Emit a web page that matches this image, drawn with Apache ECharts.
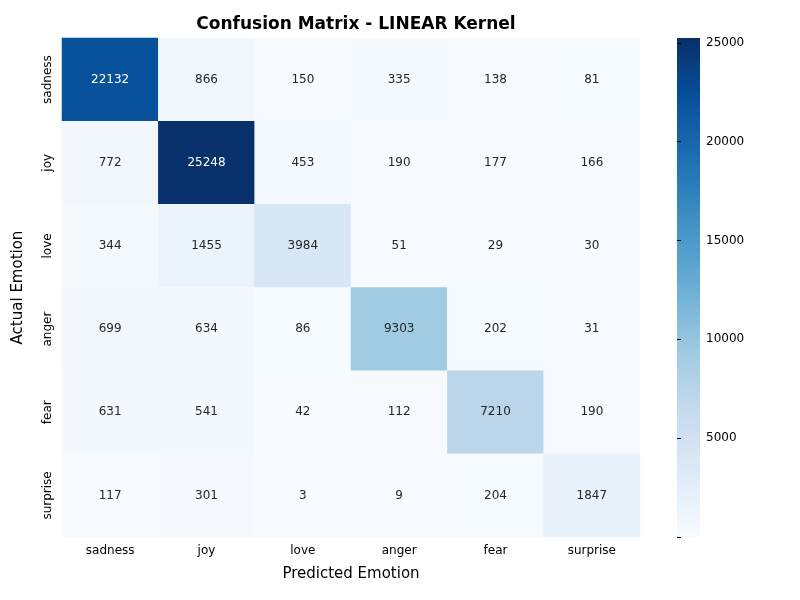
<!DOCTYPE html>
<html>
<head>
<meta charset="utf-8">
<script src="https://cdn.jsdelivr.net/npm/echarts@6/dist/echarts.min.js"></script>
<style>html,body{margin:0;background:#fff}#c{width:800px;height:600px}</style>
</head>
<body>
<div id="c"></div>
<script>
// confusion matrix, rows = actual, cols = predicted
const labels = ['sadness', 'joy', 'love', 'anger', 'fear', 'surprise'];
const matrix = [
    [22132, 866, 150, 335, 138, 81],
    [772, 25248, 453, 190, 177, 166],
    [344, 1455, 3984, 51, 29, 30],
    [699, 634, 86, 9303, 202, 31],
    [631, 541, 42, 112, 7210, 190],
    [117, 301, 3, 9, 204, 1847]
];
const colorbarTicks = [5000, 10000, 15000, 20000, 25000];
const blues = ['#f7fbff', '#deebf7', '#c6dbef', '#9ecae1', '#6baed6', '#4292c6', '#2171b5', '#08519c', '#08306b'];

let vmin = Math.min(...matrix.flat());
let vmax = Math.max(...matrix.flat());

let data = [];
matrix.forEach((row, i) => {
    row.forEach((v, j) => {
        data.push({
            value: [j, i, v],
            label: { color: (v - vmin) / (vmax - vmin) > 0.5 ? '#fff' : '#262626' }
        });
    });
});

let chart = echarts.init(document.getElementById('c'));
let font = 'DejaVu Sans';
chart.setOption({
    textStyle: { fontFamily: font },
    title: {
        text: 'Confusion Matrix - LINEAR Kernel',
        left: 351, top: 11, textAlign: 'center',
        textStyle: { fontSize: 17, fontWeight: 'bold', color: '#000', fontFamily: font }
    },
    grid: [
        { left: 62, right: 160, top: 38, bottom: 63 },
        { left: 677, width: 23, top: 38, height: 499 }
    ],
    xAxis: [{
        type: 'category', data: labels, gridIndex: 0,
        name: 'Predicted Emotion', nameLocation: 'middle', nameGap: 30,
        nameTextStyle: { fontSize: 15, color: '#000' },
        axisLine: { show: false }, axisTick: { length: 4, lineStyle: { color: '#000' }, alignWithLabel: true },
        axisLabel: { fontSize: 12, color: '#000' }, splitLine: { show: false }
    }, {
        type: 'value', gridIndex: 1, show: false
    }],
    yAxis: [{
        type: 'category', data: labels, gridIndex: 0, inverse: true,
        name: 'Actual Emotion', nameLocation: 'middle', nameGap: 36, nameRotate: 90,
        nameTextStyle: { fontSize: 15, color: '#000' },
        axisLine: { show: false }, axisTick: { length: 4, lineStyle: { color: '#000' }, alignWithLabel: true },
        axisLabel: { fontSize: 12, color: '#000', rotate: 90, margin: 8 }
    }, {
        type: 'value', gridIndex: 1, position: 'right', min: 0, max: vmax, interval: 5000,
        axisLine: { show: false }, splitLine: { show: false },
        axisTick: { show: true, length: 4, lineStyle: { color: '#000' } },
        axisLabel: {
            fontSize: 12, color: '#000', showMaxLabel: false, margin: 6,
            formatter: v => colorbarTicks.includes(v) ? v : ''
        }
    }],
    visualMap: {
        show: false, min: vmin, max: vmax, seriesIndex: 0,
        inRange: { color: blues }
    },
    graphic: [{
        type: 'rect', shape: { x: 677, y: 38, width: 23, height: 499 },
        style: {
            fill: new echarts.graphic.LinearGradient(0, 1, 0, 0,
                blues.map((c, k) => ({ offset: k / (blues.length - 1), color: c })))
        }
    }],
    series: [{
        type: 'heatmap', xAxisIndex: 0, yAxisIndex: 0, data: data,
        label: { show: true, fontSize: 12 },
        itemStyle: { borderWidth: 0 },
        emphasis: { disabled: true }
    }]
});
</script>
</body>
</html>
